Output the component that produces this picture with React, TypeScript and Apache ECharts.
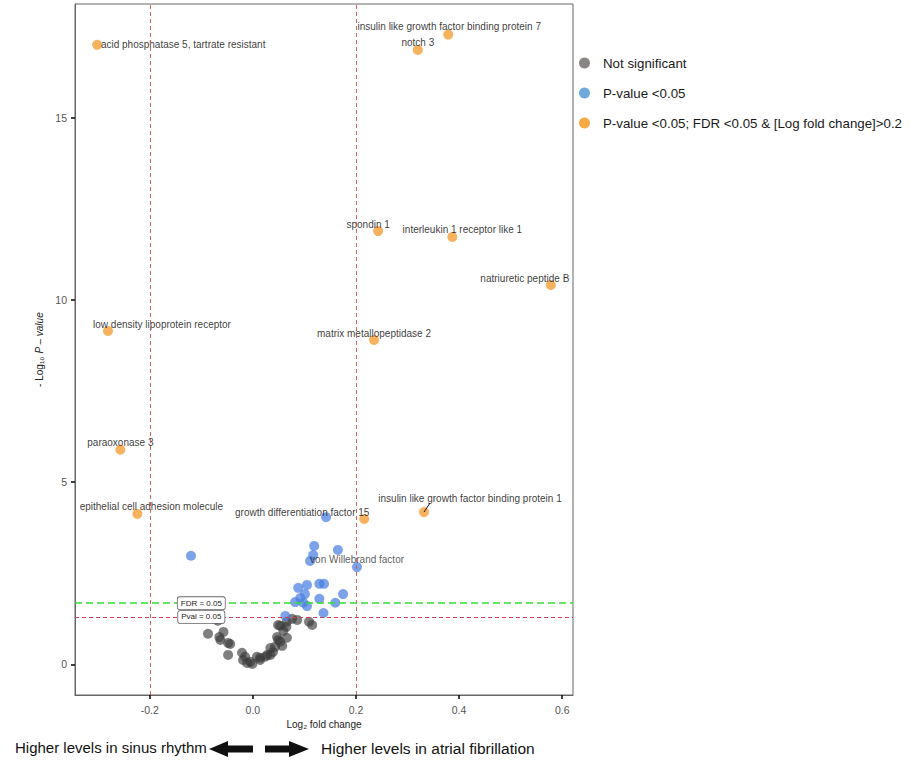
import React, { useEffect, useRef } from "react";
import * as echarts from "echarts";

// Labelled proteins passing P < 0.05, FDR < 0.05 and |log2 FC| > 0.2
const geneNames = [
  "acid phosphatase 5, tartrate resistant",
  "insulin like growth factor binding protein 7",
  "notch 3",
  "spondin 1",
  "interleukin 1 receptor like 1",
  "natriuretic peptide B",
  "low density lipoprotein receptor",
  "matrix metallopeptidase 2",
  "paraoxonase 3",
  "epithelial cell adhesion molecule",
  "growth differentiation factor 15",
  "insulin like growth factor binding protein 1",
];
const geneLogFC = [-0.302, 0.379, 0.32, 0.243, 0.387, 0.578, -0.281, 0.235, -0.257, -0.224, 0.216, 0.332];
const geneNegLogP = [17.0, 17.28, 16.86, 11.89, 11.73, 10.41, 9.15, 8.9, 5.89, 4.13, 3.99, 4.18];

// Proteins with P < 0.05 only
const blueNames = [
  "", "", "", "von Willebrand factor", "", "", "", "", "", "", "", "", "", "", "", "", "", "", "", "", "",
];
const blueLogFC = [
  0.119, 0.165, 0.117, 0.111, 0.202, 0.088, 0.105, 0.129, 0.138, 0.175, 0.101,
  0.092, 0.082, 0.098, 0.129, 0.16, 0.105, 0.137, 0.063, 0.142, -0.12,
];
const blueNegLogP = [
  3.25, 3.14, 3.0, 2.84, 2.67, 2.1, 2.18, 2.21, 2.21, 1.93, 1.93,
  1.82, 1.71, 1.69, 1.8, 1.69, 1.6, 1.41, 1.33, 4.04, 2.98,
];

// Not significant proteins
const grayLogFC = [
  0.076, 0.066, 0.086, 0.109, 0.115, 0.053, 0.065, -0.068, -0.057, -0.087, -0.065,
  -0.063, -0.048, -0.044, 0.047, 0.049, 0.066, 0.057, 0.043, 0.034, 0.039, 0.028,
  0.014, 0.008, -0.005, -0.011, -0.001, -0.019, -0.021, -0.048, 0.024, 0.053,
  -0.015, 0.014, 0.034, 0.049, 0.059,
];
const grayNegLogP = [
  1.25, 1.17, 1.22, 1.17, 1.08, 1.06, 1.03, 1.2, 0.89, 0.84, 0.75,
  0.67, 0.59, 0.56, 0.75, 0.67, 0.73, 0.51, 0.48, 0.45, 0.34, 0.26,
  0.18, 0.21, 0.07, 0.04, 0.01, 0.12, 0.32, 0.26, 0.21, 0.62,
  0.21, 0.12, 0.26, 1.08, 0.92,
];

// Thresholds
const foldCut = 0.2;
const pvalCut = 1.301; // -log10(0.05)
const fdrCut = 1.68;
const thresholdTagX = -0.1;

const xTicks = [-0.2, 0, 0.2, 0.4, 0.6];
const yTicks = [0, 5, 10, 15];

// Label displacement (pixels) from each labelled point to its text centre
const labelShift: Record<string, [number, number]> = {
  "acid phosphatase 5, tartrate resistant": [86, 0],
  "insulin like growth factor binding protein 7": [1, -8],
  "notch 3": [0, -7],
  "spondin 1": [-10, -7],
  "interleukin 1 receptor like 1": [10, -7],
  "natriuretic peptide B": [-26, -6],
  "low density lipoprotein receptor": [54, -6],
  "matrix metallopeptidase 2": [0, -7],
  "paraoxonase 3": [0, -7],
  "epithelial cell adhesion molecule": [14, -7],
  "growth differentiation factor 15": [-62, -6],
  "insulin like growth factor binding protein 1": [46, -14],
  "von Willebrand factor": [47, -1],
};
// Gene whose label sits away from its point and gets a short leader
const leaderGene = "insulin like growth factor binding protein 1";
const leaderVector: [number, number] = [6, -9];

const FONT = "'Liberation Sans', Arial, Helvetica, sans-serif";
const GRAY = "#3a3a3a";
const BLUE = "#4a7fe0";
const ORANGE = "#f5a443";

export default function App() {
  const ref = useRef<HTMLDivElement>(null);

  useEffect(() => {
    if (!ref.current) return;
    const chart = echarts.init(ref.current, null, { renderer: "svg" });

    const geneData = geneNames.map((n, i) => ({
      name: n,
      value: [geneLogFC[i], geneNegLogP[i]],
    }));
    const blueData = blueLogFC.map((x, i) => ({
      name: blueNames[i],
      value: [x, blueNegLogP[i]],
      label: { show: blueNames[i] !== "" },
    }));
    const grayData = grayLogFC.map((x, i) => [x, grayNegLogP[i]]);
    const li = geneNames.indexOf(leaderGene);
    const leaderData = [[geneLogFC[li], geneNegLogP[li]]];

    const shiftLayout = (names: string[]) => (p: any) => {
      const s = labelShift[names[p.dataIndex]];
      return s ? { dx: s[0], dy: s[1] } : {};
    };

    const geneLabel = {
      show: true,
      position: "inside",
      fontFamily: FONT,
      fontSize: 10,
      color: "#111",
      formatter: (p: any) => p.name,
    };

    const axisLineStyle = { show: true, onZero: false, lineStyle: { color: "#666", width: 1 } };

    const option: echarts.EChartsOption = {
      animation: false,
      backgroundColor: "#ffffff",
      textStyle: { fontFamily: FONT },
      grid: {
        left: 75,
        top: 4,
        right: 350,
        bottom: 67,
        show: true,
        borderColor: "#666",
        borderWidth: 1,
        backgroundColor: "transparent",
      },
      legend: {
        orient: "vertical",
        left: 574,
        top: 51,
        itemWidth: 11,
        itemHeight: 11,
        itemGap: 16,
        icon: "circle",
        textStyle: {
          fontFamily: FONT,
          fontSize: 13.3,
          color: "#1a1a1a",
          lineHeight: 14,
          padding: [0, 0, 0, 8],
        },
        data: [
          { name: "Not significant", itemStyle: { color: "#8a8585", opacity: 1 } },
          { name: "P-value <0.05", itemStyle: { color: "#6fa8dc", opacity: 1 } },
          {
            name: "P-value <0.05; FDR <0.05 & [Log fold change]>0.2",
            itemStyle: { color: "#f6a944", opacity: 1 },
          },
        ],
      },
      xAxis: {
        type: "value",
        min: -0.345,
        max: 0.621,
        name: "Log₂ fold change",
        nameLocation: "middle",
        nameGap: 22,
        nameTextStyle: { fontFamily: FONT, fontSize: 10, color: "#222" },
        splitLine: { show: false },
        axisLine: axisLineStyle,
        axisTick: {
          show: true,
          length: 4,
          lineStyle: { color: "#111", width: 1.6 },
          customValues: xTicks,
        },
        axisLabel: {
          fontFamily: FONT,
          fontSize: 10.5,
          color: "#555",
          margin: 9,
          customValues: xTicks,
          formatter: (v: number) => v.toFixed(1),
        },
      },
      yAxis: {
        type: "value",
        min: -0.84,
        max: 18.12,
        name: "- Log₁₀ {i|P – value}",
        nameLocation: "middle",
        nameGap: 29,
        nameTextStyle: {
          fontFamily: FONT,
          fontSize: 10,
          color: "#222",
          rich: { i: { fontFamily: FONT, fontSize: 10, fontStyle: "italic", color: "#222" } },
        },
        splitLine: { show: false },
        axisLine: axisLineStyle,
        axisTick: {
          show: true,
          length: 4,
          lineStyle: { color: "#111", width: 1.6 },
          customValues: yTicks,
        },
        axisLabel: {
          fontFamily: FONT,
          fontSize: 10.5,
          color: "#555",
          margin: 8,
          customValues: yTicks,
        },
      },
      series: [
        {
          name: "Not significant",
          type: "scatter",
          symbolSize: 10,
          itemStyle: { color: GRAY, opacity: 0.65 },
          data: grayData,
          z: 2,
          markLine: {
            silent: true,
            symbol: "none",
            label: { show: false },
            lineStyle: { color: "#c9574f", type: [4, 3], width: 0.9, opacity: 1 },
            data: [{ xAxis: -foldCut }, { xAxis: foldCut }],
          },
        },
        {
          name: "P-value <0.05",
          type: "scatter",
          symbolSize: 10,
          itemStyle: { color: BLUE, opacity: 0.72 },
          data: blueData,
          z: 3,
          label: { ...geneLabel, show: false },
          labelLayout: shiftLayout(blueNames),
          markLine: {
            silent: true,
            symbol: "none",
            label: { show: false },
            lineStyle: { color: "#d2405a", type: [4, 3], width: 1.2, opacity: 1 },
            data: [{ yAxis: pvalCut }],
          },
        },
        {
          name: "P-value <0.05; FDR <0.05 & [Log fold change]>0.2",
          type: "scatter",
          symbolSize: 10,
          itemStyle: { color: ORANGE, opacity: 0.85 },
          data: geneData,
          z: 4,
          label: geneLabel,
          labelLayout: shiftLayout(geneNames),
          markLine: {
            silent: true,
            symbol: "none",
            label: { show: false },
            lineStyle: { color: "#33dd33", type: [7, 4], width: 1.6, opacity: 1 },
            data: [{ yAxis: fdrCut }],
          },
          markPoint: {
            silent: true,
            symbol: "rect",
            symbolSize: 0,
            label: {
              show: true,
              position: "inside",
              fontFamily: FONT,
              fontSize: 8,
              lineHeight: 10,
              color: "#222",
              backgroundColor: "#ffffff",
              borderColor: "#666",
              borderWidth: 0.8,
              borderRadius: 2,
              padding: [1, 3],
              formatter: (p: any) => p.name,
            },
            data: [
              { name: "FDR = 0.05", coord: [thresholdTagX, fdrCut] },
              { name: "Pval = 0.05", coord: [thresholdTagX, pvalCut] },
            ],
          },
        },
        {
          // short leader from a point to its displaced label
          name: "leader",
          type: "custom",
          silent: true,
          z: 5,
          data: leaderData,
          renderItem: (params: any, api: any) => {
            const p = api.coord([api.value(0), api.value(1)]);
            return {
              type: "line",
              shape: {
                x1: p[0],
                y1: p[1],
                x2: p[0] + leaderVector[0],
                y2: p[1] + leaderVector[1],
              },
              style: { stroke: "#111", lineWidth: 1 },
            };
          },
        },
      ],
      graphic: [
        {
          type: "text",
          left: 15,
          top: 740,
          style: {
            text: "Higher levels in sinus rhythm",
            font: `15px ${FONT}`,
            fill: "#111",
          },
        },
        {
          type: "polygon",
          shape: {
            points: [
              [209, 749], [228, 741], [228, 745.5], [253, 745.5],
              [253, 752.5], [228, 752.5], [228, 757],
            ],
          },
          style: { fill: "#111" },
        },
        {
          type: "polygon",
          shape: {
            points: [
              [265, 745.5], [289, 745.5], [289, 741], [309, 749],
              [289, 757], [289, 752.5], [265, 752.5],
            ],
          },
          style: { fill: "#111" },
        },
        {
          type: "text",
          left: 321,
          top: 740,
          style: {
            text: "Higher levels in atrial fibrillation",
            font: `15.5px ${FONT}`,
            fill: "#111",
          },
        },
      ],
    };

    chart.setOption(option);
    return () => chart.dispose();
  }, []);

  return (
    <div
      ref={ref}
      style={{ position: "fixed", left: 0, top: 0, width: 923, height: 762, background: "#fff" }}
    />
  );
}
